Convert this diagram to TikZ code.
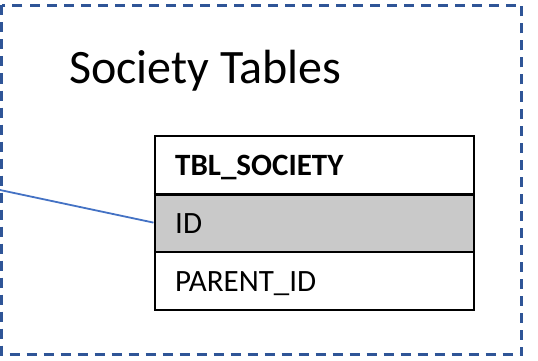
\documentclass[tikz,border=0pt]{standalone}
\usepackage{fontspec}
\setmainfont{Carlito}
\begin{document}
\begin{tikzpicture}[x=1pt,y=-1pt,
  cell/.style={draw=black,line width=2.2pt,minimum width=319pt,anchor=north west,inner sep=0pt},
  celltext/.style={anchor=base west,inner sep=0pt,font=\fontsize{31}{36}\selectfont}]
\useasboundingbox (0,0) rectangle (538,361);
\definecolor{frame}{HTML}{2F5597}
\definecolor{link}{HTML}{4472C4}
\definecolor{idfill}{HTML}{C9C9C9}
\draw[frame,line width=2.2pt,dash pattern=on 10pt off 7pt] (1.5,5.5) rectangle (521.5,354.5);
\node[anchor=base west,font=\fontsize{48}{54}\selectfont,inner sep=0pt] (title) at (69,83) {Society Tables};
\node[cell,minimum height=57.5pt] (hdr) at (153.5,135) {};
\node[cell,fill=idfill,minimum height=58pt] (id) at (153.5,192.5) {};
\node[cell,minimum height=58.5pt] (pid) at (153.5,250.5) {};
\node[celltext] (hdrt) at (175,175) {\textbf{TBL\_SOCIETY}};
\node[celltext] (idt) at (175,233) {ID};
\node[celltext] (pidt) at (175,291) {PARENT\_ID};
\draw[line width=3.5pt] (hdr.south west) -- (hdr.south east);
\coordinate (src) at (0,190);
\draw[link,line width=1.8pt] (src) -- (id.west);
\end{tikzpicture}
\end{document}
